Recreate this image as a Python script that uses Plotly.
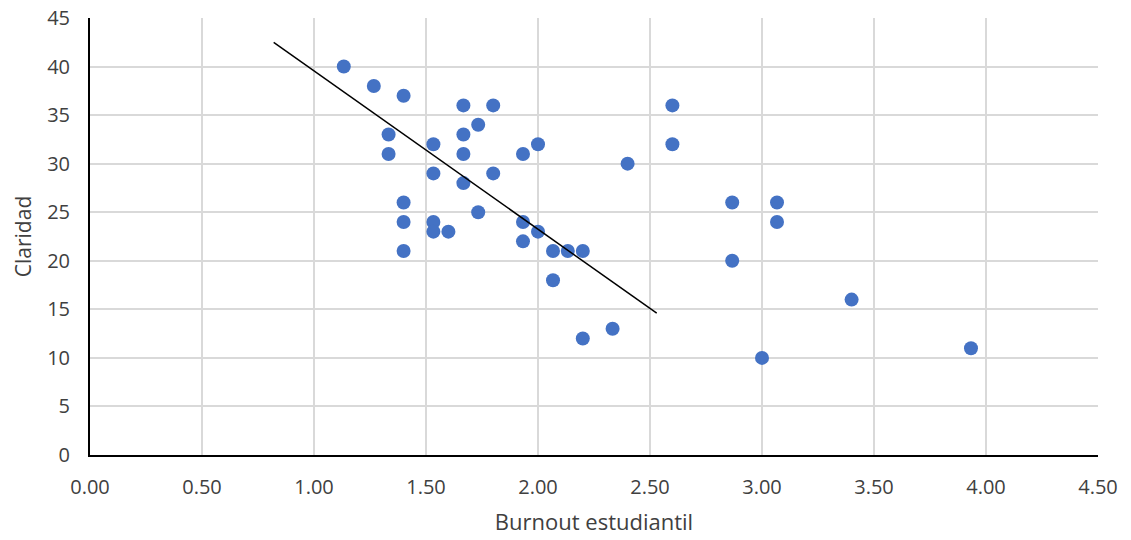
import plotly.graph_objects as go

burnout = [1.133, 1.267, 1.400, 1.333, 1.333, 1.533, 1.533, 1.667, 1.667, 1.667,
           1.667, 1.733, 1.800, 1.800, 1.400, 1.400, 1.400, 1.533, 1.533, 1.600,
           1.733, 1.933, 2.000, 1.933, 1.933, 2.000, 2.067, 2.133, 2.200, 2.067,
           2.200, 2.333, 2.400, 2.600, 2.600, 2.867, 2.867, 3.067, 3.067, 3.000,
           3.400, 3.933]
claridad = [40, 38, 37, 33, 31, 32, 29, 36, 33, 31,
            28, 34, 36, 29, 26, 24, 21, 24, 23, 23,
            25, 31, 32, 24, 22, 23, 21, 21, 21, 18,
            12, 13, 30, 36, 32, 26, 20, 26, 24, 10,
            16, 11]

line_x = [0.82, 2.53]
line_y = [42.5, 14.6]

x_ticks = [0, 0.5, 1, 1.5, 2, 2.5, 3, 3.5, 4, 4.5]
x_labels = ["0.00", "0.50", "1.00", "1.50", "2.00", "2.50", "3.00", "3.50", "4.00", "4.50"]
y_ticks = [0, 5, 10, 15, 20, 25, 30, 35, 40, 45]

fig = go.Figure()
fig.add_trace(go.Scatter(
    x=burnout, y=claridad, mode="markers",
    marker=dict(size=14, color="#4472C4", line=dict(width=0)),
    showlegend=False, hoverinfo="x+y"))
fig.add_trace(go.Scatter(
    x=line_x, y=line_y, mode="lines",
    line=dict(color="black", width=1.5),
    showlegend=False, hoverinfo="skip"))

font_family = "Open Sans, Liberation Sans, sans-serif"
fig.update_layout(
    width=1131, height=540,
    margin=dict(l=90, r=33, t=18, b=85),
    paper_bgcolor="white", plot_bgcolor="white",
    font=dict(family=font_family, size=20, color="#404040"),
    xaxis=dict(
        range=[0, 4.5], tickvals=x_ticks, ticktext=x_labels,
        showgrid=True, gridcolor="#d9d9d9", gridwidth=1.5,
        showline=True, linecolor="black", linewidth=2,
        zeroline=False, ticks="", ticklabelstandoff=13, automargin=False,
        title=dict(text="Burnout estudiantil", font=dict(size=22, color="#404040"), standoff=16),
        tickfont=dict(size=20, color="#404040"),
    ),
    yaxis=dict(
        range=[0, 45], tickvals=y_ticks,
        showgrid=True, gridcolor="#d9d9d9", gridwidth=1.5,
        showline=True, linecolor="black", linewidth=2,
        zeroline=False, ticks="", ticklabelstandoff=14, automargin=False,
        title=dict(text="Claridad", font=dict(size=21, color="#404040"), standoff=10),
        tickfont=dict(size=20, color="#404040"),
    ),
)

fig.write_html("out.html")
